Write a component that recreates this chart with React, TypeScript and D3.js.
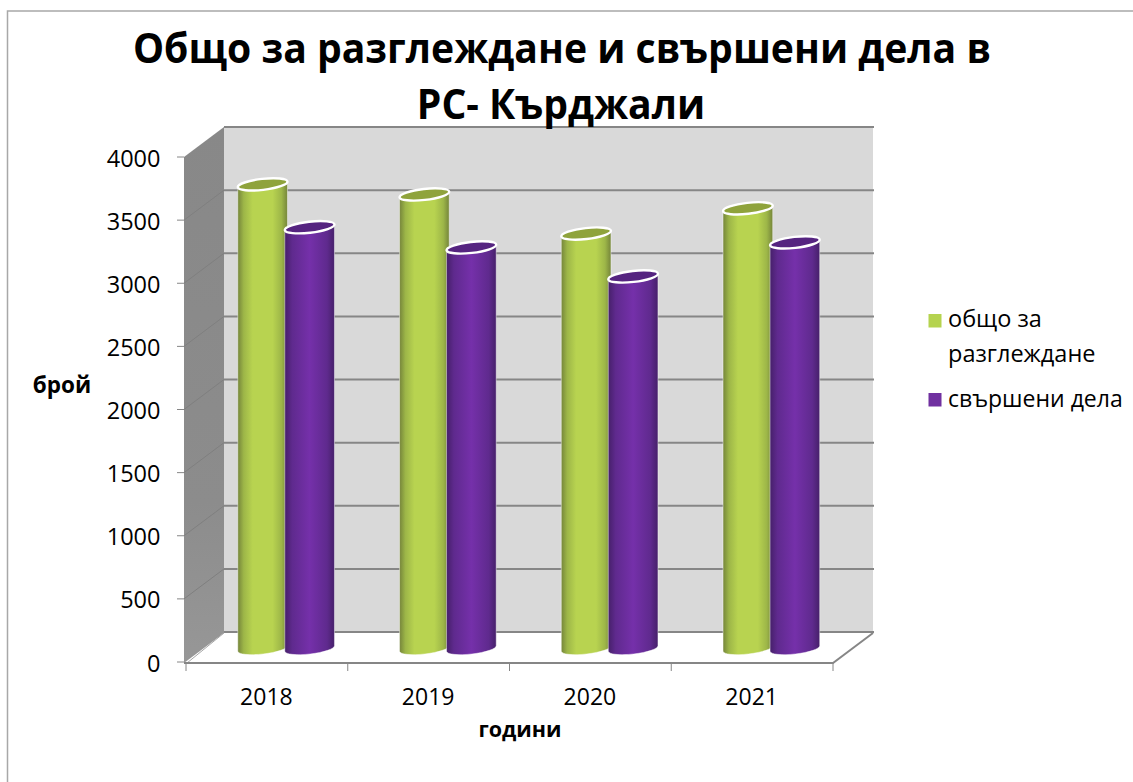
import React from "react";
import * as d3 from "d3";

const categories = ["2018", "2019", "2020", "2021"];
const seriesNames = ["общо за разглеждане", "свършени дела"];
const totalCases = [3680, 3600, 3290, 3490];
const finishedCases = [3340, 3180, 2950, 3220];
const yTicks = [0, 500, 1000, 1500, 2000, 2500, 3000, 3500, 4000];
const titleLines = ["Общо за разглеждане и свършени дела в", "РС- Кърджали"];

const FONT = "'Open Sans', 'Noto Sans', sans-serif";
const front = { left: 184, right: 833, bottom: 663, top: 157 };
const depth = { dx: 40, dy: -30 };

const yFront = d3.scaleLinear().domain([0, 4000]).range([front.bottom - 1, front.top]);
const yBar = d3.scaleLinear().domain([0, 4000]).range([648.5, 144]);
const xBand = d3.scaleBand<string>().domain(categories).range([186, 833]);
const xSeries = d3.scaleBand<number>().domain([0, 1]).range([0, 95]);

const TILT = 6.5;
const cos = Math.cos((TILT * Math.PI) / 180);
const sin = Math.sin((TILT * Math.PI) / 180);

function Cylinder({ cx, top, bottom, rx, ry, grad, cap }: any) {
  const dx = rx * cos;
  const dy = rx * sin;
  const body = `M${cx - dx},${top + dy} L${cx - dx},${bottom + dy} A${rx},${ry} ${-TILT} 0 0 ${cx + dx},${bottom - dy} L${cx + dx},${top - dy} Z`;
  return (
    <g>
      <path d={body} fill={`url(#${grad})`} stroke="#ffffff" strokeOpacity={0.45} strokeWidth={1} />
      <ellipse
        cx={cx}
        cy={top}
        rx={rx}
        ry={ry}
        fill={cap}
        stroke="#ffffff"
        strokeWidth={2.4}
        transform={`rotate(${-TILT} ${cx} ${top})`}
      />
    </g>
  );
}

// Condensed lettering: the picture's face is narrower than the installed ones.
function Label({ x, y, size, sx = 1, anchor = "start", weight = 400, children }: any) {
  return (
    <text
      transform={`translate(${x},${y}) scale(${sx},1)`}
      textAnchor={anchor}
      fontSize={size}
      fontWeight={weight}
      fill="#000"
    >
      {children}
    </text>
  );
}

export default function App() {
  const xOffset = 18.5;
  const rx = 25;
  const ry = 5.5;
  const backY = (v: number) => yFront(v) + depth.dy;
  return (
    <svg
      width={1133}
      height={782}
      style={{ position: "absolute", left: 0, top: 0, background: "#fff" }}
      fontFamily={FONT}
    >
      <defs>
        <linearGradient id="green" x1="0" x2="1" y1="0" y2="0">
          <stop offset="0" stopColor="#75853a" />
          <stop offset="0.12" stopColor="#9db648" />
          <stop offset="0.3" stopColor="#b8d350" />
          <stop offset="0.7" stopColor="#b8d350" />
          <stop offset="0.88" stopColor="#9db648" />
          <stop offset="1" stopColor="#75853a" />
        </linearGradient>
        <linearGradient id="purple" x1="0" x2="1" y1="0" y2="0">
          <stop offset="0" stopColor="#46206a" />
          <stop offset="0.15" stopColor="#5f2a8e" />
          <stop offset="0.5" stopColor="#7530aa" />
          <stop offset="0.85" stopColor="#5f2a8e" />
          <stop offset="1" stopColor="#46206a" />
        </linearGradient>
        <linearGradient id="sideWall" x1="0" x2="0" y1="0" y2="1">
          <stop offset="0" stopColor="#888888" />
          <stop offset="0.7" stopColor="#8c8c8c" />
          <stop offset="1" stopColor="#979797" />
        </linearGradient>
      </defs>

      <rect x={7.5} y={11} width={1140} height={800} fill="#fff" stroke="#a8a8a8" strokeWidth={1.5} />

      <rect
        x={front.left + depth.dx}
        y={front.top + depth.dy}
        width={front.right - front.left}
        height={front.bottom - 1 - front.top}
        fill="#d9d9d9"
      />
      <polygon
        points={`${front.left},${front.top} ${front.left + depth.dx},${front.top + depth.dy} ${front.left + depth.dx},${front.bottom + depth.dy} ${front.left},${front.bottom}`}
        fill="url(#sideWall)"
      />
      <polygon
        points={`${front.left + 3},${front.bottom} ${front.left + depth.dx},${front.bottom + depth.dy} ${front.right + depth.dx},${front.bottom + depth.dy} ${front.right},${front.bottom}`}
        fill="#fff"
      />

      {yTicks.map((t) => (
        <g key={t}>
          <line x1={front.left + depth.dx} x2={front.right + depth.dx + 1} y1={backY(t)} y2={backY(t)} stroke="#868686" strokeWidth={2} />
          {t > 0 && t < 4000 && (
            <line x1={front.left} x2={front.left + depth.dx} y1={yFront(t)} y2={backY(t)} stroke="#7f7f7f" strokeWidth={1} />
          )}
          <line x1={front.left - 7} x2={front.left} y1={yFront(t)} y2={yFront(t)} stroke="#868686" strokeWidth={1} />
          <Label x={160.5} y={yFront(t) + 9.5} size={23.5} anchor="end">
            {t}
          </Label>
        </g>
      ))}

      <path
        d={`M${front.left + 3},${front.bottom} L${front.left + depth.dx},${front.bottom + depth.dy}`}
        stroke="#a6a6a6"
        fill="none"
      />
      <path
        d={`M${front.left},${front.bottom} L${front.right},${front.bottom} L${front.right + depth.dx},${front.bottom + depth.dy}`}
        stroke="#868686"
        strokeWidth={2}
        fill="none"
      />

      {[...categories.map((c) => xBand(c)!), 833].map((x) => (
        <line key={x} x1={x} x2={x} y1={front.bottom} y2={front.bottom + 8} stroke="#868686" strokeWidth={1} />
      ))}

      {categories.map((c, i) => {
        const base = xBand(c)! + xBand.bandwidth() / 2 + xOffset - 47.5;
        return (
          <g key={c}>
            <Cylinder
              cx={base + xSeries(0)! + xSeries.bandwidth() / 2 + 1}
              top={yBar(totalCases[i])}
              bottom={yBar(0)}
              rx={rx}
              ry={ry}
              grad="green"
              cap="#8fa33c"
            />
            <Cylinder
              cx={base + xSeries(1)! + xSeries.bandwidth() / 2 + 0.5}
              top={yBar(finishedCases[i])}
              bottom={yBar(0)}
              rx={rx}
              ry={ry}
              grad="purple"
              cap="#552480"
            />
            <Label x={xBand(c)! + xBand.bandwidth() / 2 - 0.5} y={705} size={23} anchor="middle">
              {c}
            </Label>
          </g>
        );
      })}

      <Label x={520} y={736.5} size={21.5} anchor="middle" weight={700}>
        години
      </Label>
      <Label x={62} y={393} size={22.5} anchor="middle" weight={700}>
        брой
      </Label>

      <Label x={562} y={62.5} size={41} sx={0.955} anchor="middle" weight={700}>
        {titleLines[0]}
      </Label>
      <Label x={561} y={118.5} size={41} sx={0.955} anchor="middle" weight={700}>
        {titleLines[1]}
      </Label>

      <rect x={928.5} y={314} width={13} height={13.5} fill="#b5d34f" />
      <Label x={948} y={327} size={23.5}>общо за</Label>
      <Label x={948} y={362} size={23.5}>разглеждане</Label>
      <rect x={928.5} y={393} width={13} height={13.5} fill="#7030a0" />
      <Label x={948} y={407} size={23}>{seriesNames[1]}</Label>
    </svg>
  );
}
